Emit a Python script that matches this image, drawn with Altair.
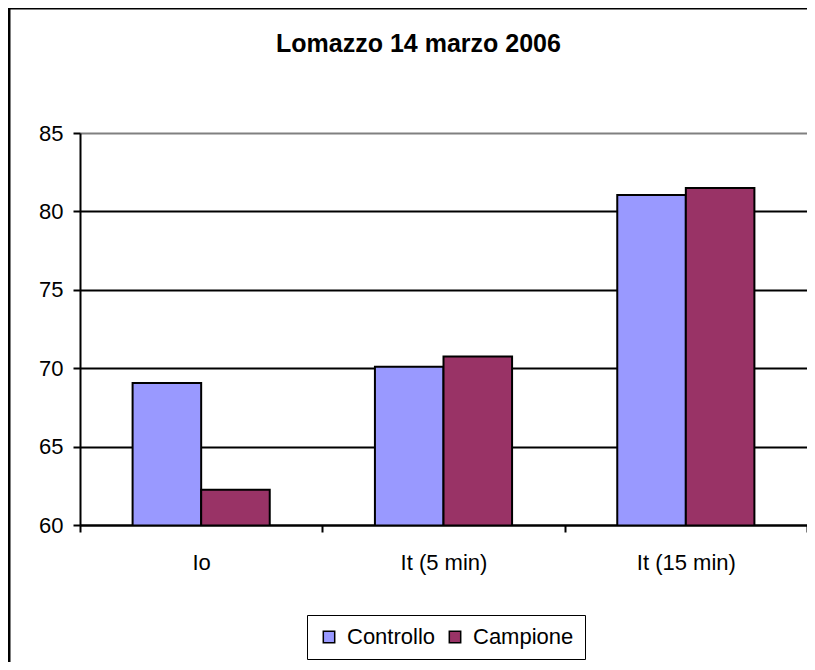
import altair as alt
import pandas as pd

categories = ["Io", "It (5 min)", "It (15 min)"]
series = ["Controllo", "Campione"]
controllo = [69.05, 70.1, 81.05]
campione = [62.25, 70.75, 81.5]
colors = ["#9999FF", "#993366"]
y_ticks = [60, 65, 70, 75, 80, 85]

rows = []
for i, c in enumerate(categories):
    rows.append({"cat": c, "serie": series[0], "val": controllo[i]})
    rows.append({"cat": c, "serie": series[1], "val": campione[i]})
df = pd.DataFrame(rows)

FONT = "Liberation Sans"

bars = alt.Chart(df).mark_bar(stroke="black", strokeWidth=2, clip=True).encode(
    x=alt.X("cat:N", sort=categories,
            scale=alt.Scale(paddingInner=0, paddingOuter=0),
            axis=alt.Axis(title=None, labelAngle=0, tickBand="extent",
                          labelFont=FONT, labelFontSize=22, labelColor="black",
                          labelPadding=20, tickSize=7, tickColor="black", tickWidth=2,
                          domainColor="black", domainWidth=2, grid=False, zindex=1)),
    xOffset=alt.XOffset("serie:N", sort=series,
                        scale=alt.Scale(paddingInner=0, paddingOuter=0.767)),
    y=alt.Y("val:Q", scale=alt.Scale(domain=[60, 85], nice=False, zero=False),
            axis=alt.Axis(title=None, values=y_ticks, labelFont=FONT, labelFontSize=22,
                          labelColor="black", labelPadding=10, tickSize=7,
                          tickColor="black", tickWidth=2, domainColor="black",
                          domainWidth=2, grid=True,
                          gridColor={"condition": {"test": "datum.value == 85", "value": "#808080"},
                                     "value": "black"},
                          gridWidth=2)),
    color=alt.Color("serie:N", sort=series,
                    scale=alt.Scale(domain=series, range=colors),
                    legend=alt.Legend(title=None, orient="none", legendX=227, legendY=482,
                                      direction="horizontal", symbolType="square",
                                      symbolSize=130, symbolStrokeColor="black",
                                      symbolStrokeWidth=1.5, labelFont=FONT,
                                      labelFontSize=22, labelColor="black", labelOffset=7,
                                      columnPadding=8, padding=11, strokeColor="black",
                                      fillColor="white")),
)

frame = alt.Chart(alt.Data(values=[{}])).mark_rect(
    filled=False, stroke="black", strokeWidth=3
).encode(
    x=alt.value(-71), x2=alt.value(760), y=alt.value(-125), y2=alt.value(620)
)

chart = alt.layer(bars, frame).properties(
    width=727,
    height=392,
    autosize=alt.AutoSizeParams(type="none"),
    padding={"left": 72, "top": 125, "right": 0, "bottom": 137},
    title=alt.Title("Lomazzo 14 marzo 2006", font=FONT, fontSize=25, fontWeight="bold",
                    color="black", anchor="middle", dx=-25, offset=-70,
                    baseline="alphabetic"),
).configure_view(
    stroke="#808080", strokeWidth=2
).configure(background="white")

chart.save("out.html", embed_options={"renderer": "svg", "actions": False})
